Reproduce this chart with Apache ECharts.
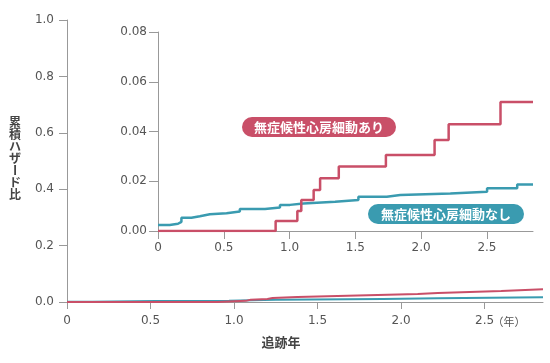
<!DOCTYPE html>
<html><head><meta charset="utf-8">
<script src="https://cdn.jsdelivr.net/npm/echarts@6/dist/echarts.min.js"></script>
<style>html,body{margin:0;padding:0;background:#fff}#c{width:550px;height:363px}</style>
</head><body><div id="c"></div>
<script>
// Inset (0-0.08) step data: [year, cumulative hazard]
const insetAF = [[0,0],[0.894,0.004],[1.059,0.008],[1.089,0.0125],[1.183,0.0165],[1.232,0.0212],[1.374,0.0259],[1.732,0.0306],[2.102,0.0366],[2.209,0.0429],[2.603,0.0519],[2.85,0.0519]];
const insetNoAF = [[0,0.0024],[0.089,0.0029],[0.152,0.0037],[0.178,0.0053],[0.254,0.0059],[0.318,0.0067],[0.394,0.0071],[0.521,0.0078],[0.622,0.0088],[0.813,0.0094],[0.927,0.0105],[1.003,0.0111],[1.104,0.0118],[1.346,0.0125],[1.523,0.0138],[1.739,0.0145],[1.841,0.0151],[2.222,0.0158],[2.501,0.0172],[2.73,0.0187],[2.85,0.0188]];
// Main (0-1.0) step data
const mainAF = [[0,0],[0.90,0.004],[1.07,0.008],[1.10,0.011],[1.20,0.014],[1.23,0.018],[1.38,0.023],[1.74,0.028],[2.10,0.032],[2.22,0.039],[2.60,0.045],[2.85,0.045]];
const mainNoAF = [[0,0.001],[0.15,0.0035],[0.53,0.0046],[0.97,0.008],[1.25,0.011],[1.89,0.013],[2.22,0.017],[2.85,0.017]];
const xTicks = [0,0.5,1,1.5,2,2.5];
const labelAF = '無症候性心房細動あり';
const labelNoAF = '無症候性心房細動なし';
const yTitle = '累積ハザード比';
const xTitle = '追跡年';
const xUnit = '（年）';

const RED = '#c94f68', TEAL = '#3a9bb0', AX = '#999', TXT = '#555';
const FONT = '"Noto Sans CJK JP", "Noto Sans", sans-serif';
const NUMFONT = '"DejaVu Sans", sans-serif';
const fmtX = v => v === 0 ? '0' : v.toFixed(1);

const chart = echarts.init(document.getElementById('c'));
const axisCommon = {
  axisLine: {show: true, lineStyle: {color: AX, width: 1}},
  splitLine: {show: false},
  axisLabel: {color: TXT, fontSize: 12, fontFamily: NUMFONT},
};
const titleChars = yTitle.split('').map((ch, i) => ({
  type: 'text', x: 15, y: 122 + i * 12,
  rotation: ch === 'ー' ? -Math.PI / 2 : 0,
  style: {text: ch, fill: '#444', font: 'bold 12px ' + FONT, align: 'center', verticalAlign: 'middle'}
}));
function pill(cx, cy, w, h, text, color) {
  return {type: 'group', x: cx - w / 2, y: cy - h / 2, children: [
    {type: 'rect', shape: {x: 0, y: 0, width: w, height: h, r: h / 2}, style: {fill: color}},
    {type: 'text', x: w / 2, y: h / 2, style: {text: text, fill: '#fff', font: 'bold 13px ' + FONT, align: 'center', verticalAlign: 'middle'}}
  ]};
}
chart.setOption({
  animation: false,
  grid: [
    {left: 67, right: 7, top: 20, bottom: 61},
    {left: 158, right: 17, top: 32, bottom: 132}
  ],
  xAxis: [
    Object.assign({}, axisCommon, {gridIndex: 0, type: 'value', min: 0, max: 2.85,
      axisTick: {show: true, customValues: xTicks, length: 7, lineStyle: {color: AX}},
      axisLabel: Object.assign({}, axisCommon.axisLabel, {customValues: xTicks, formatter: fmtX, margin: 13})}),
    Object.assign({}, axisCommon, {gridIndex: 1, type: 'value', min: 0, max: 2.85,
      axisTick: {show: true, customValues: xTicks, length: 8, lineStyle: {color: AX}},
      axisLabel: Object.assign({}, axisCommon.axisLabel, {customValues: xTicks, formatter: fmtX, margin: 11})})
  ],
  yAxis: [
    Object.assign({}, axisCommon, {gridIndex: 0, type: 'value', min: 0, max: 1, interval: 0.2,
      axisTick: {show: true, length: 8, lineStyle: {color: AX}},
      axisLabel: Object.assign({}, axisCommon.axisLabel, {formatter: v => v.toFixed(1), margin: 13})}),
    Object.assign({}, axisCommon, {gridIndex: 1, type: 'value', min: 0, max: 0.08, interval: 0.02,
      axisTick: {show: true, length: 9, lineStyle: {color: AX}},
      axisLabel: Object.assign({}, axisCommon.axisLabel, {formatter: v => v.toFixed(2), margin: 11})})
  ],
  series: [
    {type: 'line', xAxisIndex: 0, yAxisIndex: 0, step: 'end', data: mainNoAF, showSymbol: false, lineStyle: {color: TEAL, width: 2}},
    {type: 'line', xAxisIndex: 0, yAxisIndex: 0, step: 'end', data: mainAF, showSymbol: false, lineStyle: {color: RED, width: 2}},
    {type: 'line', xAxisIndex: 1, yAxisIndex: 1, step: 'end', data: insetNoAF, showSymbol: false, lineStyle: {color: TEAL, width: 2.5}},
    {type: 'line', xAxisIndex: 1, yAxisIndex: 1, step: 'end', data: insetAF, showSymbol: false, lineStyle: {color: RED, width: 2.5}}
  ],
  graphic: titleChars.concat([
    pill(319, 127, 154, 20, labelAF, RED),
    pill(446, 214, 156, 20, labelNoAF, TEAL),
    {type: 'text', x: 281, y: 342, style: {text: xTitle, fill: '#444', font: 'bold 13px ' + FONT, align: 'center', verticalAlign: 'middle'}},
    {type: 'text', x: 509, y: 322, style: {text: xUnit, fill: TXT, font: '11px ' + FONT, align: 'center', verticalAlign: 'middle'}}
  ])
});
</script></body></html>
